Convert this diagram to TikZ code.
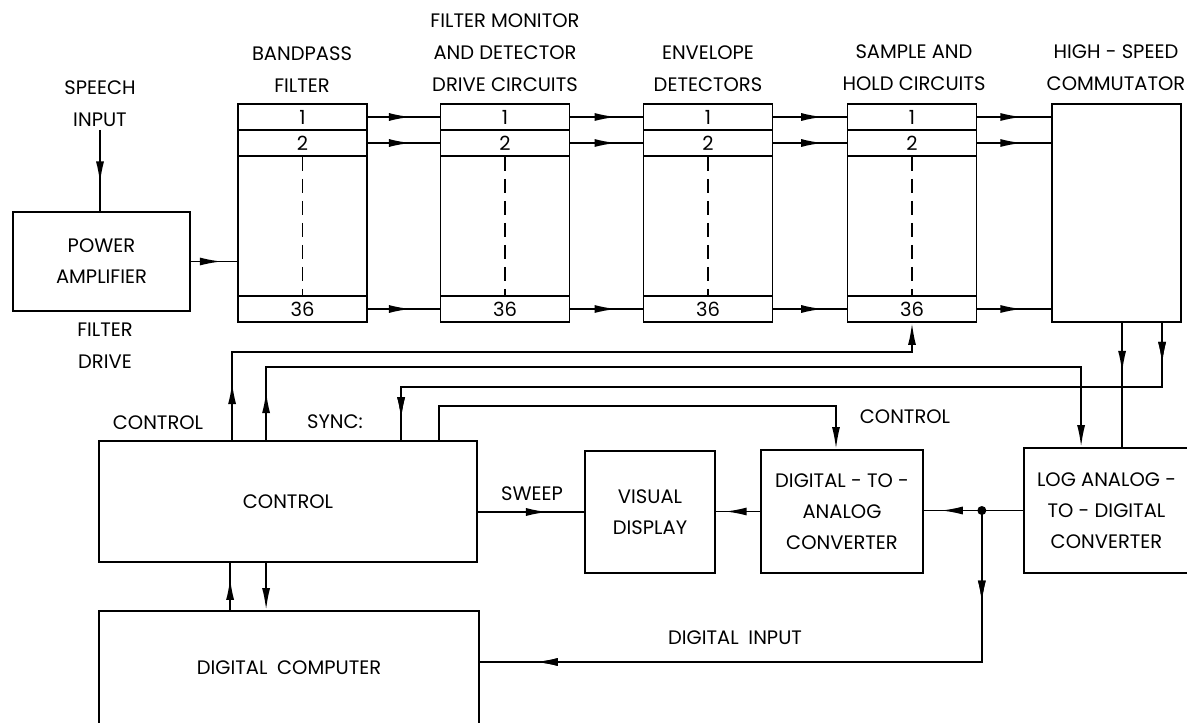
\documentclass[tikz,border=0pt]{standalone}
\usepackage{fontspec}
\setmainfont{Poppins}
\usetikzlibrary{arrows.meta,decorations.markings}

\begin{document}
\begin{tikzpicture}[x=1pt, y=-1pt, line width=1.8pt,
    >={Latex[length=22pt,width=8pt]}]
    \tikzset{
        blk/.style={
            draw, inner sep=0pt, align=center,
            font=\fontsize{19.5}{31}\selectfont
        },
        cell/.style={
            draw, inner sep=0pt,
            minimum width=129pt, minimum height=26pt,
            font=\fontsize{19.5}{31}\selectfont
        },
        tag/.style={
            inner sep=2pt, align=center,
            font=\fontsize{19.5}{32}\selectfont
        },
        flowat/.style={
            postaction={decorate},
            decoration={markings, mark=at position #1 with {\arrow{>}}}
        },
    }
    \fill[white] (0,0) rectangle (1187,723);
    \useasboundingbox (0,0) rectangle (1187,723);

    % ==== Headings ====
    \node[tag] (spin) at (100,104) {SPEECH\\INPUT};
    \node[tag] (bpft) at (302,70) {BANDPASS\\FILTER};
    \node[tag] (fmdt) at (505,53) {FILTER MONITOR\\AND DETECTOR\\DRIVE CIRCUITS};
    \node[tag] (envt) at (708,69) {ENVELOPE\\DETECTORS};
    \node[tag] (sht) at (914,68) {SAMPLE AND\\HOLD CIRCUITS};
    \node[tag] (comt) at (1116,68) {HIGH - SPEED\\COMMUTATOR};

    % ==== Power amplifier ====
    \node[blk, minimum width=177pt, minimum height=99pt] (pa) at (101.5,261.5) {POWER\\AMPLIFIER};
    \node[tag] (fdrv) at (105,346) {FILTER\\DRIVE};

    % ==== Filter channels ====
    \node[blk, minimum width=129pt, minimum height=218pt] (bpf) at (302.5,213) {};
    \node[cell] (bpf1) at (302.5,117) {1};
    \node[cell] (bpf2) at (302.5,143) {2};
    \node[cell] (bpf36) at (302.5,309) {36};
    \draw[dash pattern=on 14pt off 8pt] (bpf2.south) -- (bpf36.north);

    \node[blk, minimum width=129pt, minimum height=218pt] (fmd) at (505,213) {};
    \node[cell] (fmd1) at (505,117) {1};
    \node[cell] (fmd2) at (505,143) {2};
    \node[cell] (fmd36) at (505,309) {36};
    \draw[dash pattern=on 14pt off 8pt] (fmd2.south) -- (fmd36.north);

    \node[blk, minimum width=129pt, minimum height=218pt] (env) at (708,213) {};
    \node[cell] (env1) at (708,117) {1};
    \node[cell] (env2) at (708,143) {2};
    \node[cell] (env36) at (708,309) {36};
    \draw[dash pattern=on 14pt off 8pt] (env2.south) -- (env36.north);

    \node[blk, minimum width=129pt, minimum height=218pt] (sh) at (912,213) {};
    \node[cell] (sh1) at (912,117) {1};
    \node[cell] (sh2) at (912,143) {2};
    \node[cell] (sh36) at (912,309) {36};
    \draw[dash pattern=on 14pt off 8pt] (sh2.south) -- (sh36.north);

    \node[blk, minimum width=129pt, minimum height=218pt] (com) at (1116.5,213) {};

    \draw[flowat=0.66] (spin.south) -- (spin.south |- pa.north);
    \draw[flowat=0.67] (pa.east) -- (pa.east -| bpf.west);

    \draw[flowat=0.6] (bpf1.east) -- (fmd1.west);
    \draw[flowat=0.6] (bpf2.east) -- (fmd2.west);
    \draw[flowat=0.6] (bpf36.east) -- (fmd36.west);
    \draw[flowat=0.64] (fmd1.east) -- (env1.west);
    \draw[flowat=0.64] (fmd2.east) -- (env2.west);
    \draw[flowat=0.64] (fmd36.east) -- (env36.west);
    \draw[flowat=0.68] (env1.east) -- (sh1.west);
    \draw[flowat=0.68] (env2.east) -- (sh2.west);
    \draw[flowat=0.68] (env36.east) -- (sh36.west);
    \draw[flowat=0.61] (sh1.east) -- (sh1.east -| com.west);
    \draw[flowat=0.61] (sh2.east) -- (sh2.east -| com.west);
    \draw[flowat=0.61] (sh36.east) -- (sh36.east -| com.west);

    % ==== Control and conversion ====
    \node[blk, minimum width=378pt, minimum height=121pt] (ctl) at (288,501.5) {CONTROL};
    \node[blk, minimum width=380pt, minimum height=113.5pt] (dc) at (289,667.75) {DIGITAL\hspace{0.5em}COMPUTER};
    \node[blk, minimum width=130pt, minimum height=122pt] (vd) at (650,512) {VISUAL\\DISPLAY};
    \node[blk, minimum width=162pt, minimum height=123pt] (dac) at (842,511.5) {DIGITAL - TO -\\ANALOG\\CONVERTER};
    \node[blk, minimum width=165pt, minimum height=125pt] (lad) at (1106.5,510.5) {LOG ANALOG -\\TO - DIGITAL\\CONVERTER};

    \node[tag] (ctlt) at (158,423) {CONTROL};
    \node[tag] (synct) at (335,422) {SYNC:};
    \node[tag] (dact) at (905,417) {CONTROL};
    \node[tag] (swpt) at (532,494) {SWEEP};
    \node[tag] (dint) at (735,638) {DIGITAL\hspace{0.5em}INPUT};

    \draw[->, flowat=58pt] ([xshift=134pt]ctl.north west) -- ++(0,-88) -| (sh.south);
    \draw[->, flowat=49pt] ([xshift=168pt]ctl.north west) -- ++(0,-73) -| ([xshift=58pt]lad.north west);
    \draw[flowat=41pt, flowat=-21pt] ([xshift=111pt]com.south west) -- ++(0,64) -| ([xshift=303pt]ctl.north west);
    \draw[->] ([xshift=341pt]ctl.north west) -- ++(0,-34) -| ([xshift=-6pt]dac.north);
    \draw[flowat=50pt] ([xshift=71pt]com.south west) -- ++(0,126);

    \draw[flowat=-15pt] ([xshift=132pt]dc.north west) -- ([xshift=132pt]ctl.south west);
    \draw[->] ([xshift=168pt]ctl.south west) -- ([xshift=168pt]dc.north west);

    \draw[flowat=0.66] (ctl.east |- vd.west) -- (vd.west);
    \draw[flowat=0.8] (dac.west) -- (dac.west -| vd.east);
    \draw[flowat=0.83] (lad.west) -- coordinate[pos=0.416] (jn) (lad.west -| dac.east);
    \fill (jn) circle[radius=4.5pt];
    \draw[flowat=92pt, flowat=-56pt] (jn) |- ([yshift=5.75pt]dc.east);

\end{tikzpicture}
\end{document}
